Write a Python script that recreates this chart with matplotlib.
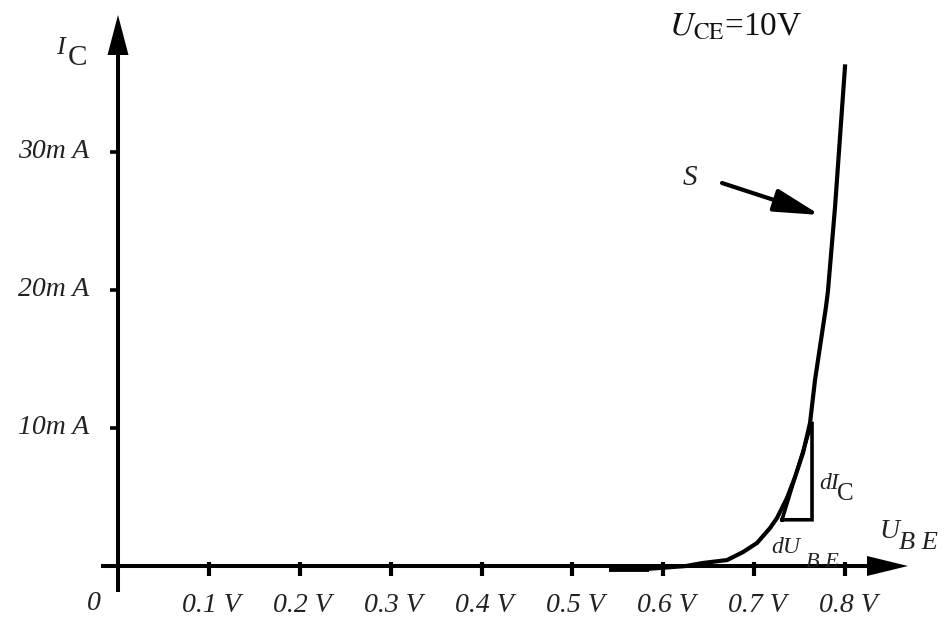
import numpy as np
import matplotlib.pyplot as plt

plt.rcParams['font.family'] = ['Liberation Serif', 'DejaVu Serif']
plt.rcParams['mathtext.fontset'] = 'stix'

# transfer characteristic I_C(U_BE)
ube = [0.540, 0.584, 0.605, 0.625, 0.6436, 0.670, 0.6876, 0.703, 0.7173,
       0.725, 0.736, 0.7448, 0.7536, 0.7613, 0.7668, 0.7789, 0.781,
       0.7888, 0.7998]
ic = [-0.2, -0.2, -0.1, 0.0, 0.22, 0.43, 1.01, 1.67, 2.75,
      3.48, 4.93, 6.45, 8.19, 10.36, 13.48, 18.8, 19.9,
      26.0, 36.2]

x_ticks = [0.1, 0.2, 0.3, 0.4, 0.5, 0.6, 0.7, 0.8]
x_labels = ['0.1 V', '0.2 V', '0.3 V', '0.4 V', '0.5 V', '0.6 V', '0.7 V', '0.8 V']
y_ticks = [10, 20, 30]
y_labels = ['10m A', '20m A', '30m A']

# slope triangle dU_BE / dI_C
tri_u = [0.7305, 0.7635, 0.7635, 0.7305]
tri_i = [3.35, 3.35, 10.45, 3.35]

# pixel -> data mapping of the figure (origin at px 118, 566)
PX_PER_V = 909.0
PX_PER_MA = 13.8


def px(x, y):
    return (x - 118) / PX_PER_V, (566 - y) / PX_PER_MA


fig = plt.figure(figsize=(9.5, 6.18), dpi=100)
ax = fig.add_axes([0, 0, 1, 1])
x_lo, y_hi = px(0, 0)
x_hi, y_lo = px(950, 618)
ax.set_xlim(x_lo, x_hi)
ax.set_ylim(y_lo, y_hi)
ax.axis('off')

lw = 2.9
ink = 'black'
txt = '#222222'

# axes lines
ax.plot([px(101, 0)[0], px(867, 0)[0]], [0, 0], color=ink, lw=lw, solid_capstyle='butt')
ax.plot([0, 0], [px(0, 592)[1], px(0, 55)[1]], color=ink, lw=lw, solid_capstyle='butt')

# arrow heads
hx = [px(867, 0)[0], px(908, 0)[0], px(867, 0)[0]]
hy = [px(0, 556)[1], 0, px(0, 576)[1]]
ax.fill(hx, hy, color=ink, lw=0)
vx = [px(107.5, 0)[0], 0, px(128.5, 0)[0]]
vy = [px(0, 55)[1], px(0, 15)[1], px(0, 55)[1]]
ax.fill(vx, vy, color=ink, lw=0)

# ticks
for v in x_ticks:
    ax.plot([v, v], [px(0, 562)[1], px(0, 576)[1]], color=ink, lw=3.0, solid_capstyle='butt')
for v in y_ticks:
    ax.plot([px(110, 0)[0], 0], [v, v], color=ink, lw=2.6, solid_capstyle='butt')

lab_style = dict(fontsize=20, style='italic', color=txt)
for v, s in zip(x_ticks, x_labels):
    ax.text(v + 0.003, px(0, 606)[1], s, ha='center', va='center', **lab_style)
for v, s in zip(y_ticks, y_labels):
    ax.text(px(89, 0)[0], v, s, ha='right', va='center', **lab_style)
ax.text(*px(94, 603), '0', ha='center', va='center', **lab_style)

# curve
ax.plot(ube[:2], ic[:2], color=ink, lw=4.2, solid_capstyle='butt')
ax.plot(ube[1:], ic[1:], color=ink, lw=3.0, solid_joinstyle='round')

# triangle
ax.plot(tri_u, tri_i, color=ink, lw=2.6, solid_joinstyle='miter')

# S arrow
ax.annotate('', xy=px(820, 215), xytext=px(722, 183),
            arrowprops=dict(arrowstyle='-|>,head_length=2.8,head_width=0.7',
                            color=ink, lw=3, shrinkA=0, shrinkB=0))
ax.text(*px(690, 178), 'S', ha='center', va='center', fontsize=21,
        style='italic', color=txt)

# axis names
ax.text(*px(56, 54), 'I', ha='left', va='baseline', fontsize=19, style='italic', color=txt)
ax.text(*px(68, 65), 'C', ha='left', va='baseline', fontsize=21, color=txt)
ax.text(*px(879, 538), 'U', ha='left', va='baseline', fontsize=20, style='italic', color=txt)
ax.text(*px(899, 549), 'B E', ha='left', va='baseline', fontsize=19, style='italic', color=txt)
ax.text(*px(819, 489), 'dI', ha='left', va='baseline', fontsize=17, style='italic', color=txt)
ax.text(*px(837, 500), 'C', ha='left', va='baseline', fontsize=18, color=txt)
ax.text(*px(771, 553), 'dU', ha='left', va='baseline', fontsize=17, style='italic', color=txt)
ax.text(*px(806, 567), 'B E', ha='left', va='baseline', fontsize=16, style='italic', color=txt)

# operating condition
ax.text(*px(669, 35), r'$U_{\mathrm{CE}}$=10V', ha='left', va='baseline',
        fontsize=24, color='#111111')

fig.savefig('out.png', dpi=100)
